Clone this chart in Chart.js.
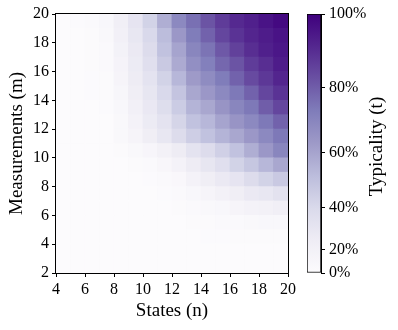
<!DOCTYPE html>
<html><head><meta charset="utf-8">
<script src="https://cdn.jsdelivr.net/npm/chart.js@4/dist/chart.umd.min.js"></script>
<style>
html,body{margin:0;padding:0;background:#fff;}
#wrap{position:relative;width:398px;height:330px;}
canvas{position:absolute;left:0;top:0;}
</style></head><body>
<div id="wrap"><canvas id="main" width="398" height="330"></canvas><canvas id="cbar" width="398" height="330"></canvas></div>
<script>
// ---- data (typicality t in %, cells [n, n+1] x [m, m+1]) ----
const states = [4,5,6,7,8,9,10,11,12,13,14,15,16,17,18,19];
const measurements = [2,3,4,5,6,7,8,9,10,11,12,13,14,15,16,17,18,19];
const t_m2  = [0,0,0,0,0,0,0,0,0,0,0,0,1,1,1,1];
const t_m3  = [0,0,0,0,0,0,0,0,0,1,1,1,2,2,2,2];
const t_m4  = [0,0,0,0,0,0,0,0,1,2,3,3,4,4.5,5,5];
const t_m5  = [0,0,0,0,0,0,0,1,2.5,4.5,5,7,7.5,9,11,11];
const t_m6  = [0,0,0,0,0,0,1,2,4,7,9,11,15,18,20,22];
const t_m7  = [0,0,0,0,0,1,2,3,6,11,15,20,24,28,30,34];
const t_m8  = [0,0,0,0,1,2,3,6,10,18,24,28,32,38,43,47];
const t_m9  = [0,0,0,1,2,4,7,12,18,26,31,36,43,48,54,59];
const t_m10 = [0,0,1,1,5,9,14,20,26,33,38,44,50,57,64,70];
const t_m11 = [1,1,1,2,9,15,24,30,38,45,50,55,59,64,69,74];
const t_m12 = [1,1,2,2,9,18,27,33,42,50,54,60,65,69,74,79];
const t_m13 = [1,1,2,3,11,21,29,37,46,55,59,65,70,74,80,85];
const t_m14 = [1,1,3,4,13,24,31,40,49,59,64,69,74,79,85,89];
const t_m15 = [1,2,3,5,15,26,33,43,54,63,68,73,79,84,88,92];
const t_m16 = [1,2,4,7,17,27,36,47,58,67,72,78,82,87,90,94];
const t_m17 = [1,2,4,7,19,28,38,50,60,70,75,81,86,90,93,95];
const t_m18 = [1,2,5,9,21,30,40,52,64,73,79,85,89,92,94,96];
const t_m19 = [2,3,6,11,22,32,43,57,69,76,82,87,91,93,96,98];
const typicality = [t_m2,t_m3,t_m4,t_m5,t_m6,t_m7,t_m8,t_m9,t_m10,t_m11,t_m12,t_m13,t_m14,t_m15,t_m16,t_m17,t_m18,t_m19];
const xTicks = [4,6,8,10,12,14,16,18,20];
const yTicks = [2,4,6,8,10,12,14,16,18,20];
const cbTicks = [0,20,40,60,80,100];

// ---- colour map (Purples, power norm) ----
const GAMMA = 1.5;
const PURPLES = ['#fcfbfd','#efedf5','#dadaeb','#bcbddc','#9e9ac8','#807dba','#6a51a3','#54278f','#3f007d'];
const PRGB = PURPLES.map(h => [1,3,5].map(i => parseInt(h.substr(i,2),16)));
function purples(c){
  c = Math.max(0, Math.min(1, c));
  const p = c * 8, i = Math.min(7, Math.floor(p)), f = p - i;
  const a = PRGB[i], b = PRGB[i+1];
  return 'rgb(' + a.map((v,k) => Math.round(v + (b[k]-v)*f)).join(',') + ')';
}
const norm = v => Math.pow(v/100, GAMMA);

const FONT = 'Liberation Serif';
const tickFont = {family: FONT, size: 16};
const titleFont = {family: FONT, size: 19};

const frame = {
  id: 'frame',
  afterDatasetsDraw(chart){
    const {ctx, chartArea: a} = chart;
    ctx.save();
    ctx.strokeStyle = '#000'; ctx.lineWidth = 1;
    ctx.strokeRect(Math.round(a.left) - 0.5, Math.round(a.top) - 0.5,
                   Math.round(a.right - a.left) + 1, Math.round(a.bottom - a.top) + 1);
    ctx.restore();
  }
};

const datasets = measurements.map((m, r) => ({
  data: states.map(n => ({x: n + 0.5, y: [m, m + 1]})),
  backgroundColor: typicality[r].map(v => purples(norm(v))),
  borderWidth: 0,
  grouped: false,
  barPercentage: 1,
  categoryPercentage: 1,
  inflateAmount: 0.4
}));

new Chart(document.getElementById('main'), {
  type: 'bar',
  data: {datasets},
  options: {
    responsive: false, animation: false, events: [],
    layout: {padding: {left: 0, top: 14, right: 110, bottom: 0}},
    plugins: {legend: {display: false}, tooltip: {enabled: false}},
    scales: {
      x: {
        type: 'linear', min: 4, max: 20, offset: false,
        afterBuildTicks: s => { s.ticks = xTicks.map(v => ({value: v})); },
        ticks: {color: '#000', font: tickFont, padding: 3, maxRotation: 0, autoSkip: false},
        grid: {offset: false, drawOnChartArea: false, drawTicks: true, tickLength: 4, color: '#000'},
        border: {display: false},
        title: {display: true, text: 'States (n)', color: '#000', font: titleFont, padding: {top: 0, bottom: 8}},
        afterFit: s => { s.height = 57; }
      },
      y: {
        type: 'linear', min: 2, max: 20, beginAtZero: false,
        afterBuildTicks: s => { s.ticks = yTicks.map(v => ({value: v})); },
        ticks: {color: '#000', font: tickFont, padding: 3, autoSkip: false},
        grid: {drawOnChartArea: false, drawTicks: true, tickLength: 4, color: '#000'},
        border: {display: false},
        title: {display: true, text: 'Measurements (m)', color: '#000', font: titleFont, padding: {top: 6, bottom: 0}},
        afterFit: s => { s.width = 56; }
      }
    }
  },
  plugins: [frame]
});

const cbTitle = {
  id: 'cbTitle',
  afterDraw(chart){
    const {ctx} = chart; const s = chart.scales.y;
    ctx.save();
    ctx.translate(s.right - 21, (s.top + s.bottom) / 2 + 3);
    ctx.rotate(-Math.PI / 2);
    ctx.fillStyle = '#000';
    ctx.font = '19px "Liberation Serif"';
    ctx.textAlign = 'center'; ctx.textBaseline = 'middle';
    ctx.fillText('Typicality (t)', 0, 0);
    ctx.restore();
  }
};

new Chart(document.getElementById('cbar'), {
  type: 'bar',
  data: {labels: ['t'], datasets: [{
    data: [[0, 1]],
    backgroundColor: (c) => {
      const a = c.chart.chartArea;
      if (!a) return PURPLES[4];
      const g = c.chart.ctx.createLinearGradient(0, a.bottom, 0, a.top);
      PURPLES.forEach((col, i) => g.addColorStop(i / 8, col));
      return g;
    },
    borderColor: '#000', borderWidth: 1, borderSkipped: false,
    barPercentage: 1, categoryPercentage: 1
  }]},
  options: {
    responsive: false, animation: false, events: [],
    layout: {padding: {left: 307, top: 14, right: 0, bottom: 57}},
    plugins: {legend: {display: false}, tooltip: {enabled: false}},
    scales: {
      x: {display: false},
      y: {
        position: 'right', min: 0, max: 1,
        afterBuildTicks: s => { s.ticks = cbTicks.map(v => ({value: norm(v)})); },
        ticks: {color: '#000', font: tickFont, padding: 4, autoSkip: false,
                callback: (v, i) => cbTicks[i] + '%'},
        grid: {drawOnChartArea: false, drawTicks: true, tickLength: 4, color: '#000'},
        border: {display: true, color: '#000'},
        afterFit: s => { s.width = 77; }
      }
    }
  },
  plugins: [cbTitle]
});
</script>
</body></html>
